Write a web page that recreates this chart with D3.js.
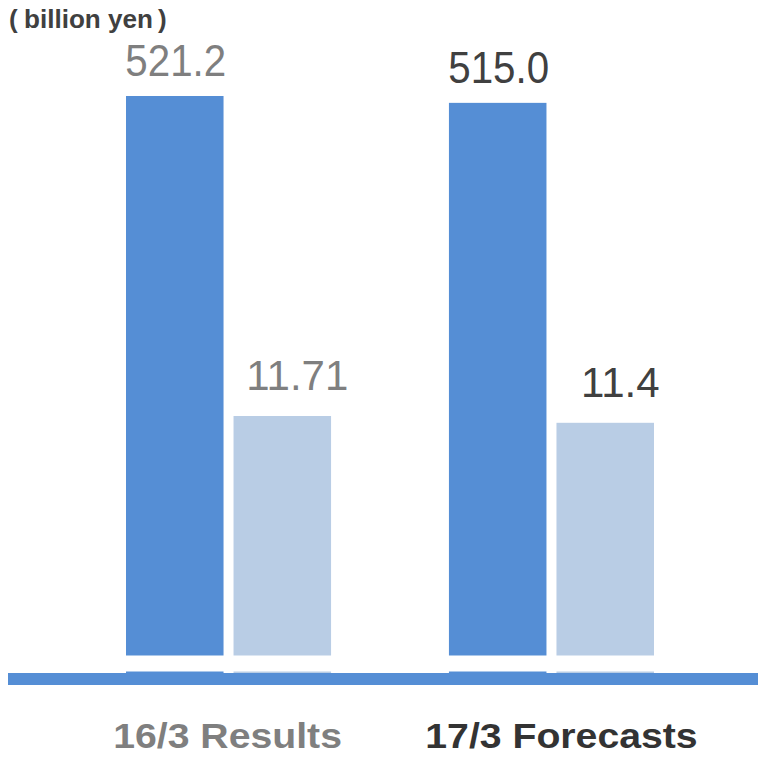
<!DOCTYPE html>
<html>
<head>
<meta charset="utf-8">
<script src="https://cdn.jsdelivr.net/npm/d3@7"></script>
<style>
  html, body { margin: 0; padding: 0; background: #fff; }
  svg { display: block; }
</style>
</head>
<body>
<svg id="chart" width="758" height="759"></svg>
<script>
// Fiscal periods and the two measures shown for each
const periods = ["16/3 Results", "17/3 Forecasts"];
const netSales = [521.2, 515.0];      // left scale (billion yen)
const operatingIncome = [11.71, 11.4]; // right scale (billion yen)
const salesLabels = ["521.2", "515.0"];
const incomeLabels = ["11.71", "11.4"];

const W = 758, H = 759;
const svg = d3.select("#chart");

const baseY = 673;
const darkBlue = "#558ed5";
const lightBlue = "#b9cde5";
const textColors = ["#7f7f7f", "#404040"];
const font = "'Liberation Sans', Arial, sans-serif";

// Group and bar positions
const x0 = d3.scaleBand().domain(periods).range([126, 654]).paddingInner(0.365).paddingOuter(0);
const series = ["sales", "income"];
const x1 = d3.scaleBand().domain(series).range([0, x0.bandwidth()]).paddingInner(0.093).paddingOuter(0);

// Each measure has its own value axis, both starting at zero on the baseline
const ySales = d3.scaleLinear().domain([0, 600]).range([baseY, baseY - 600 * (577 / 521.2)]);
const yIncome = d3.scaleLinear().domain([0, 30]).range([baseY, baseY - 30 * (257 / 11.71)]);

const rows = periods.map((p, i) => ({
  period: p, i,
  sales: netSales[i], income: operatingIncome[i],
  salesLabel: salesLabels[i], incomeLabel: incomeLabels[i]
}));

const groups = svg.selectAll("g.period").data(rows).join("g")
  .attr("class", "period")
  .attr("transform", d => `translate(${x0(d.period)},0)`);

// Net sales bars
groups.append("rect")
  .attr("x", x1("sales"))
  .attr("width", x1.bandwidth())
  .attr("y", d => ySales(d.sales))
  .attr("height", d => ySales(0) - ySales(d.sales))
  .attr("fill", darkBlue);

// Operating income bars
groups.append("rect")
  .attr("x", x1("income"))
  .attr("width", x1.bandwidth())
  .attr("y", d => yIncome(d.income))
  .attr("height", d => yIncome(0) - yIncome(d.income))
  .attr("fill", lightBlue);

// Axis break: white band across the bars just above the baseline
svg.append("rect")
  .attr("x", 0).attr("width", W)
  .attr("y", 655.5).attr("height", 16)
  .attr("fill", "#fff");

// Baseline
svg.append("rect")
  .attr("x", 8).attr("width", W - 8)
  .attr("y", baseY).attr("height", 12)
  .attr("fill", darkBlue);

// Value labels
groups.append("text")
  .attr("x", x1("sales") + x1.bandwidth() / 2 + 1)
  .attr("y", d => ySales(d.sales) - 24)
  .attr("text-anchor", "middle")
  .attr("font-family", font)
  .attr("font-size", 42)
  .attr("transform", d => {
    const cx = x1("sales") + x1.bandwidth() / 2 + 1;
    return `translate(${cx},0) scale(0.96,1.05) translate(${-cx},0)`;
  })
  .attr("fill", d => textColors[d.i])
  .text(d => d.salesLabel);

groups.append("text")
  .attr("x", x1("income") + x1.bandwidth() / 2 + 15)
  .attr("y", d => yIncome(d.income) - 26)
  .attr("text-anchor", "middle")
  .attr("font-family", font)
  .attr("font-size", 42)
  .attr("fill", d => textColors[d.i])
  .text(d => d.incomeLabel);

// Category labels, stretched slightly wider than the font's natural width
const catLabels = groups.append("text")
  .attr("x", d => x0.bandwidth() / 2 + (d.i === 0 ? -1 : 10))
  .attr("y", 748)
  .attr("text-anchor", "middle")
  .attr("font-family", font)
  .attr("font-weight", "bold")
  .attr("font-size", 35)
  .attr("fill", d => d.i === 0 ? "#7f7f7f" : "#333333")
  .text(d => d.period);
catLabels.each(function() {
  const len = this.getComputedTextLength();
  d3.select(this).attr("textLength", len * 1.12).attr("lengthAdjust", "spacingAndGlyphs");
});

// Unit note
const unit = svg.append("text")
  .attr("y", 28)
  .attr("font-family", font)
  .attr("font-weight", "bold")
  .attr("font-size", 26)
  .attr("fill", "#404040");
unit.append("tspan").attr("x", 9).text("(");
unit.append("tspan").attr("x", 24)
  .attr("textLength", 129).attr("lengthAdjust", "spacingAndGlyphs")
  .text("billion yen");
unit.append("tspan").attr("x", 158).text(")");
</script>
</body>
</html>
